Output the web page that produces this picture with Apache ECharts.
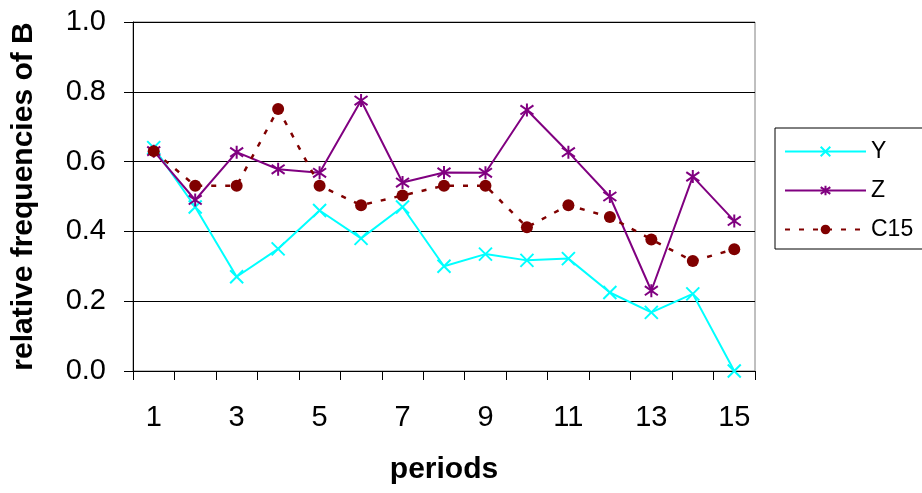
<!DOCTYPE html>
<html>
<head>
<meta charset="utf-8">
<script src="https://cdn.jsdelivr.net/npm/echarts@6/dist/echarts.min.js"></script>
<style>
  html, body { margin: 0; padding: 0; background: #fff; }
  #chart { width: 922px; height: 493px; }
</style>
</head>
<body>
<div id="chart"></div>
<script>
var periods = ['1', '2', '3', '4', '5', '6', '7', '8', '9', '10', '11', '12', '13', '14', '15'];
var yVals = [0.64, 0.47, 0.27, 0.35, 0.46, 0.38, 0.47, 0.30, 0.335, 0.317, 0.322, 0.225, 0.168, 0.221, 0.0];
var zVals = [0.63, 0.49, 0.627, 0.578, 0.568, 0.775, 0.54, 0.569, 0.568, 0.748, 0.627, 0.50, 0.23, 0.557, 0.43];
var c15Vals = [0.63, 0.531, 0.531, 0.751, 0.531, 0.475, 0.503, 0.531, 0.531, 0.412, 0.475, 0.441, 0.377, 0.315, 0.349];

var xMark = 'path://M0,0L10,10M10,0L0,10';
var starMark = 'path://M5,0L5,10M0,1.5L10,8.5M10,1.5L0,8.5';
var font = 'Liberation Sans, Arial, sans-serif';

echarts.init(document.getElementById('chart')).setOption({
    animation: false,
    textStyle: { fontFamily: font },
    grid: {
        left: 133,
        right: 167,
        top: 22,
        bottom: 122,
        show: true,
        borderColor: '#808080',
        borderWidth: 1
    },
    legend: {
        left: 775,
        top: 128,
        orient: 'vertical',
        borderColor: '#000',
        borderWidth: 1,
        padding: [12, 60, 8, 9],
        itemGap: 16,
        itemWidth: 81,
        itemHeight: 12,
        textStyle: { fontSize: 23, color: '#000', fontFamily: font },
        data: ['Y', 'Z', 'C15']
    },
    xAxis: {
        type: 'category',
        data: periods,
        boundaryGap: true,
        name: 'periods',
        nameLocation: 'middle',
        nameGap: 84,
        nameTextStyle: { fontSize: 30, fontWeight: 'bold', color: '#000' },
        axisLine: { lineStyle: { color: '#000', width: 1 } },
        axisTick: { show: true, length: 9, interval: 0, lineStyle: { color: '#000' } },
        axisLabel: { interval: 1, fontSize: 29, color: '#000', margin: 32 },
        splitLine: { show: false }
    },
    yAxis: {
        type: 'value',
        min: 0,
        max: 1,
        interval: 0.2,
        name: 'relative frequencies of B',
        nameLocation: 'middle',
        nameGap: 94,
        nameTextStyle: { fontSize: 30, fontWeight: 'bold', color: '#000' },
        axisLine: { show: true, lineStyle: { color: '#000', width: 1 } },
        axisTick: { show: true, length: 9, lineStyle: { color: '#000' } },
        axisLabel: {
            fontSize: 29,
            color: '#000',
            margin: 27,
            formatter: function (v) { return v.toFixed(1); }
        },
        splitLine: { show: true, lineStyle: { color: '#000', width: 1 } }
    },
    series: [{
        name: 'Y',
        type: 'line',
        data: yVals,
        symbol: xMark,
        symbolSize: 13,
        lineStyle: { color: '#00ffff', width: 2 },
        itemStyle: { color: '#00ffff', borderColor: '#00ffff', borderWidth: 2 }
    },
    {
        name: 'Z',
        type: 'line',
        data: zVals,
        symbol: starMark,
        symbolSize: 13,
        lineStyle: { color: '#800080', width: 2 },
        itemStyle: { color: '#800080', borderColor: '#800080', borderWidth: 2 }
    },
    {
        name: 'C15',
        type: 'line',
        data: c15Vals,
        symbol: 'circle',
        symbolSize: 12,
        lineStyle: { color: '#800000', width: 2.5, type: [5, 9] },
        itemStyle: { color: '#800000', borderColor: '#800000', borderWidth: 0 }
    }]
});
</script>
</body>
</html>
